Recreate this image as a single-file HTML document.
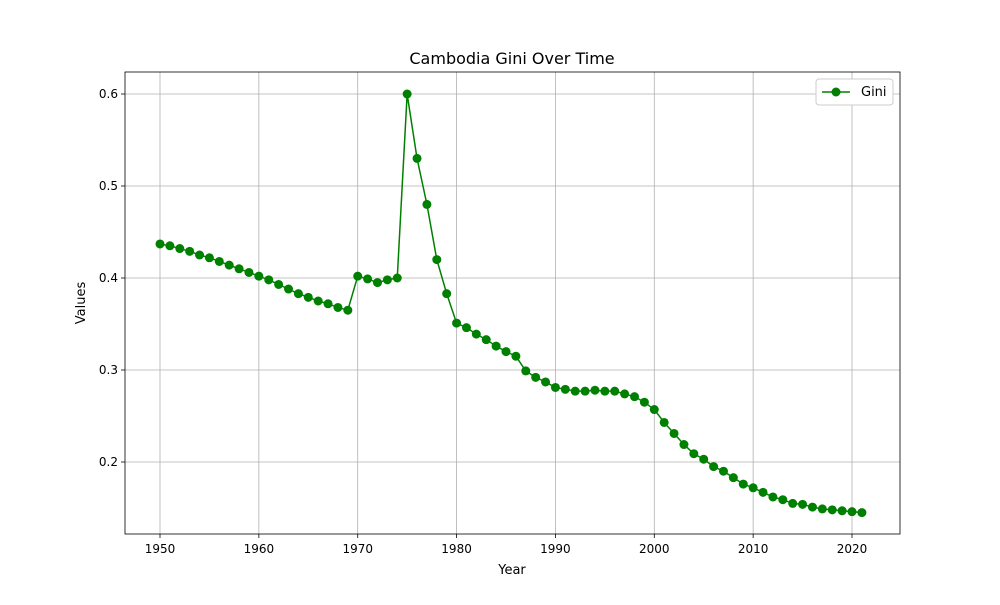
<!DOCTYPE html>
<html><head><meta charset="utf-8"><style>
body{margin:0;background:#fff;font-family:"Liberation Sans","DejaVu Sans",sans-serif;}
svg text{font-family:"DejaVu Sans","Liberation Sans",sans-serif;}
</style></head><body>
<svg id="chart" width="1000" height="600"></svg>
<script>
const years = [];
for (let y = 1950; y <= 2021; y++) years.push(y);
const gini = [0.437,0.435,0.432,0.429,0.425,0.422,0.418,0.414,0.410,0.406,
0.402,0.398,0.393,0.388,0.383,0.379,0.375,0.372,0.368,0.365,
0.402,0.399,0.395,0.398,0.400,0.600,0.530,0.480,0.420,0.383,
0.351,0.346,0.339,0.333,0.326,0.320,0.315,0.299,0.292,0.287,
0.281,0.279,0.277,0.277,0.278,0.277,0.277,0.274,0.271,0.265,
0.257,0.243,0.231,0.219,0.209,0.203,0.195,0.190,0.183,0.176,
0.172,0.167,0.162,0.159,0.155,0.154,0.151,0.149,0.148,0.147,
0.146,0.145];
const xTicks = [1950,1960,1970,1980,1990,2000,2010,2020];
const yTicks = [0.2,0.3,0.4,0.5,0.6];

const NS = "http://www.w3.org/2000/svg";
const svg = document.getElementById('chart');
const L=125,R=900,T=72,B=534;
const xs = v => 160 + (v-1950)*(852-160)/70;
const ys = v => 94 + (0.6-v)*920;
function mk(tag, attrs, parent){const e=document.createElementNS(NS,tag);for(const k in attrs)e.setAttribute(k,attrs[k]);(parent||svg).appendChild(e);return e;}

const grid = mk('g',{});


xTicks.forEach(t=>{
  mk('line',{x1:xs(t),x2:xs(t),y1:T,y2:B,stroke:'#b0b0b0','stroke-width':0.8},grid);
  mk('line',{x1:xs(t),x2:xs(t),y1:B,y2:B+4,stroke:'#000','stroke-width':0.8});
  const tx=mk('text',{x:xs(t),y:B+19,'text-anchor':'middle','font-size':12});
  tx.textContent=t;
  
  
});
yTicks.forEach(t=>{
  mk('line',{x1:L,x2:R,y1:ys(t),y2:ys(t),stroke:'#b0b0b0','stroke-width':0.8},grid);
  mk('line',{x1:L-4,x2:L,y1:ys(t),y2:ys(t),stroke:'#000','stroke-width':0.8});
  const tx=mk('text',{x:L-7,y:ys(t)+4,'text-anchor':'end','font-size':12});
  tx.textContent=t.toFixed(1);
  
  
});
const frame=mk('rect',{x:L,y:T,width:R-L,height:B-T,fill:'none',stroke:'#000','stroke-width':0.8});



const line=mk('polyline',{points:years.map((y,i)=>xs(y)+','+ys(gini[i])).join(' '),fill:'none',stroke:'#008000','stroke-width':1.5});


years.forEach((y,i)=>{
  const c=mk('circle',{cx:xs(y),cy:ys(gini[i]),r:4.5,fill:'#008000'});
  
  
});

const title=mk('text',{x:512,y:64,'text-anchor':'middle','font-size':16});
title.textContent='Cambodia Gini Over Time';


const xl=mk('text',{x:512,y:574,'text-anchor':'middle','font-size':13});
xl.textContent='Year';


const yl=mk('text',{x:85,y:303,'text-anchor':'middle','font-size':13,transform:'rotate(-90 85 303)'});
yl.textContent='Values';



const lg=mk('g',{});


mk('rect',{x:816,y:79,width:77,height:26,rx:3,fill:'#fff',stroke:'#ccc'},lg);
mk('line',{x1:822,x2:850,y1:92,y2:92,stroke:'#008000','stroke-width':1.5},lg);
mk('circle',{cx:836,cy:92,r:4.5,fill:'#008000'},lg);
const lt=mk('text',{x:861,y:96,'font-size':13},lg);
lt.textContent='Gini';


</script>
</body></html>
